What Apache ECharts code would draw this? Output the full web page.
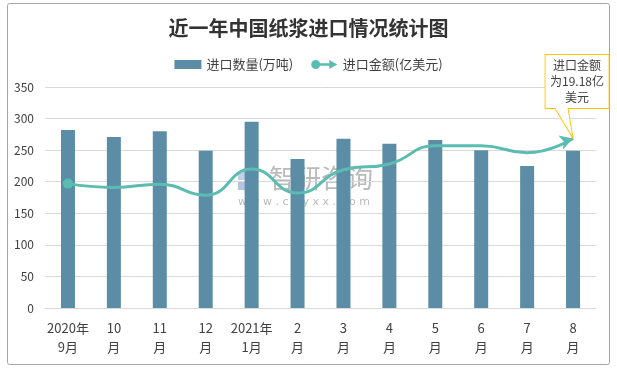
<!DOCTYPE html>
<html>
<head>
<meta charset="utf-8">
<script src="https://cdn.jsdelivr.net/npm/echarts@6/dist/echarts.min.js"></script>
<style>
html,body{margin:0;padding:0;background:#fff;}
#main{width:617px;height:371px;}
</style>
</head>
<body>
<div id="main"></div>
<script>
var categories = ['2020年\n9月','10\n月','11\n月','12\n月','2021年\n1月','2\n月','3\n月','4\n月','5\n月','6\n月','7\n月','8\n月'];
var quantity = [282, 271, 280, 249, 295, 236, 268, 260, 266, 250, 225, 249];
var amount = [14.07, 13.64, 14.00, 12.76, 15.71, 13.00, 15.64, 16.29, 18.36, 18.36, 17.57, 19.18];
var yTicks = [0, 50, 100, 150, 200, 250, 300, 350];

var FONT = '"Noto Sans CJK SC", "Microsoft YaHei", sans-serif';
var lineColor = '#5bbcb2';
var barColor = '#5b8ea6';

var lineData = amount.map(function (v, i) {
  if (i === 0) return { value: v, symbol: 'circle', symbolSize: 10 };
  if (i === amount.length - 1) return { value: v, symbol: 'arrow', symbolSize: [11, 13], symbolRotate: -72 };
  return { value: v, symbol: 'none' };
});

var chart = echarts.init(document.getElementById('main'), null, { renderer: 'canvas' });
chart.setOption({
  animation: false,
  backgroundColor: '#fff',
  textStyle: { fontFamily: FONT },
  title: {
    text: '近一年中国纸浆进口情况统计图',
    left: 'center',
    top: 13,
    textStyle: { fontSize: 20, fontWeight: 'bold', color: '#333', fontFamily: FONT }
  },
  legend: {
    top: 53,
    left: 'center',
    itemGap: 18,
    itemWidth: 27,
    itemHeight: 9,
    textStyle: { fontSize: 13, color: '#404040', fontFamily: FONT },
    data: [
      { name: '进口数量(万吨)', icon: 'rect' },
      { name: '进口金额(亿美元)', icon: 'path://M0,5A5,5,0,1,1,10,5A5,5,0,1,1,0,5ZM8,3.5L20,3.5L20,0L29,5L20,10L20,6.5L8,6.5Z' }
    ]
  },
  grid: { left: 45, right: 21, top: 87, bottom: 63 },
  xAxis: {
    type: 'category',
    data: categories,
    axisLine: { lineStyle: { color: '#d9d9d9' } },
    axisTick: { show: false },
    axisLabel: { color: '#404040', fontSize: 13, lineHeight: 19, margin: 11, interval: 0, fontFamily: FONT }
  },
  yAxis: [{
    type: 'value',
    min: 0,
    max: yTicks[yTicks.length - 1],
    interval: 50,
    axisLine: { show: false },
    axisTick: { show: false },
    splitLine: { lineStyle: { color: '#d9d9d9' } },
    axisLabel: { color: '#404040', fontSize: 12, margin: 11, fontFamily: FONT }
  }, {
    type: 'value',
    min: 0,
    max: 25,
    show: false,
    splitLine: { show: false }
  }],
  series: [{
    name: '进口数量(万吨)',
    type: 'bar',
    data: quantity,
    barWidth: 14,
    itemStyle: { color: barColor },
    z: 2
  }, {
    name: '进口金额(亿美元)',
    type: 'line',
    yAxisIndex: 1,
    data: lineData,
    smooth: 0.5,
    showAllSymbol: true,
    lineStyle: { color: lineColor, width: 3 },
    itemStyle: { color: lineColor },
    z: 3,
    markPoint: {
      silent: true,
      data: [{
        coord: [amount.length - 1, amount[amount.length - 1]],
        symbol: 'path://M-28,-84L36,-84L36,-30L-5,-30L0,0L-18,-30L-28,-30Z',
        symbolSize: [64, 84],
        symbolOffset: [4, -42],
        itemStyle: { color: '#fff', borderColor: '#ffc000', borderWidth: 1 },
        label: {
          show: true,
          formatter: '进口金额\n为19.18亿\n美元',
          color: '#404040',
          fontSize: 12,
          lineHeight: 16,
          offset: [0, -15],
          fontFamily: FONT
        }
      }]
    }
  }],
  graphic: [{
    type: 'rect',
    shape: { x: 7.5, y: 3.5, width: 602, height: 361, r: 2 },
    style: { fill: 'none', stroke: '#a6a6a6', lineWidth: 1 },
    silent: true,
    z: 0
  }, {
    type: 'group',
    left: 238,
    top: 165,
    z: 100,
    silent: true,
    children: [
      { type: 'rect', shape: { x: 0, y: 2, width: 9, height: 9 }, style: { fill: 'rgba(140,170,215,0.55)' } },
      { type: 'rect', shape: { x: 10, y: 2, width: 9, height: 9 }, style: { fill: 'rgba(140,170,215,0.45)' } },
      { type: 'rect', shape: { x: 0, y: 12, width: 9, height: 9 }, style: { fill: 'rgba(120,150,200,0.55)' } },
      { type: 'rect', shape: { x: 10, y: 12, width: 9, height: 9 }, style: { fill: 'rgba(170,190,225,0.45)' } },
      { type: 'text', x: 31, y: -4, style: { text: '智研咨询', fontSize: 26, fill: 'rgba(140,140,140,0.6)', fontFamily: FONT } },
      { type: 'text', x: 0, y: 28, style: { text: 'w w w . c h y x x . c o m', fontSize: 11, fill: 'rgba(140,140,140,0.6)', fontFamily: 'DejaVu Sans' } }
    ]
  }]
});
</script>
</body>
</html>
